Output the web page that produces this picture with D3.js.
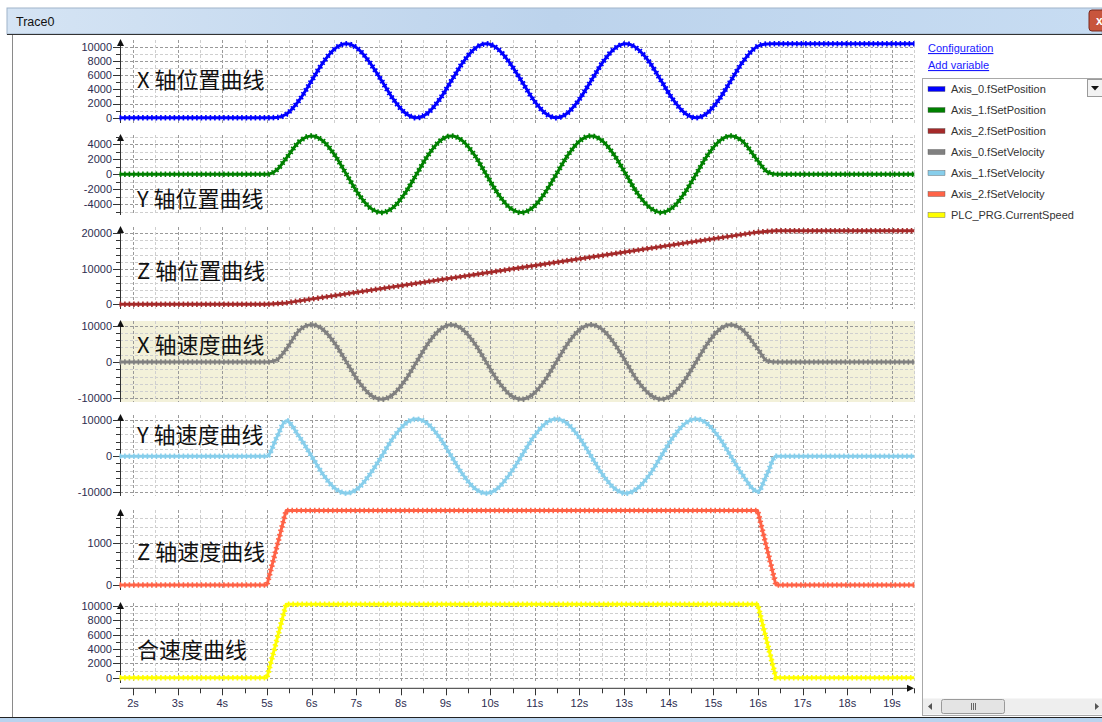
<!DOCTYPE html>
<html>
<head>
<meta charset="utf-8">
<script src="https://cdn.jsdelivr.net/npm/d3@7"></script>
<style>
  body { margin: 0; background: #fff; }
  svg { display: block; font-family: "Liberation Sans", Arial, sans-serif; }
</style>
</head>
<body>
<div id="chart"></div>
<script>
// ---- data ----
// sample times of the circular X/Y move, seconds
const waveTimes = [1.70, 5.00, 5.22, 5.43, 5.72, 6.00, 6.26, 6.52, 6.78, 7.04, 7.30, 7.57, 7.83, 8.09, 8.35, 8.61, 8.87, 9.13, 9.39, 9.65, 9.91, 10.17, 10.43, 10.70, 10.96, 11.22, 11.48, 11.74, 12.00, 12.26, 12.52, 12.78, 13.04, 13.30, 13.57, 13.83, 14.09, 14.35, 14.61, 14.87, 15.13, 15.39, 15.65, 15.99, 16.20, 16.40, 19.50];
const xPosition = [0, 0, 30, 470, 2440, 5200, 7800, 9700, 10400, 9700, 7800, 5200, 2600, 700, 0, 700, 2600, 5200, 7800, 9700, 10400, 9700, 7800, 5200, 2600, 700, 0, 700, 2600, 5200, 7800, 9700, 10400, 9700, 7800, 5200, 2600, 700, 0, 700, 2600, 5200, 7800, 10060, 10390, 10400, 10400];
const yPosition = [0, 0, 580, 2120, 4320, 5100, 4420, 2550, 0, -2550, -4420, -5100, -4420, -2550, 0, 2550, 4420, 5100, 4420, 2550, 0, -2550, -4420, -5100, -4420, -2550, 0, 2550, 4420, 5100, 4420, 2550, 0, -2550, -4420, -5100, -4420, -2550, 0, 2550, 4420, 5100, 4420, 1830, 360, 0, 0];
const xVelocity = [0, 0, 590, 3500, 8680, 10250, 8880, 5130, 0, -5130, -8880, -10250, -8880, -5130, 0, 5130, 8880, 10250, 8880, 5130, 0, -5130, -8880, -10250, -8880, -5130, 0, 5130, 8880, 10250, 8880, 5130, 0, -5130, -8880, -10250, -8880, -5130, 0, 5130, 8880, 10250, 8880, 3670, 350, 0, 0];
const yVelocity = [0, 0, 5190, 9800, 5450, 0, -5130, -8880, -10250, -8880, -5130, 0, 5130, 8880, 10250, 8880, 5130, 0, -5130, -8880, -10250, -8880, -5130, 0, 5130, 8880, 10250, 8880, 5130, 0, -5130, -8880, -10250, -8880, -5130, 0, 5130, 8880, 10250, 8880, 5130, 0, -5130, -9800, -5010, 0, 0];

// Z axis and path speed: ramp up, constant, ramp down
const rampTimes = [1.70, 5.00, 5.43, 15.99, 16.40, 19.50];
const zPosition = [0, 0, 400, 20330, 20700, 20700];
const zVelocity = [0, 0, 1785, 1785, 0, 0];
const currentSpeed = [0, 0, 10250, 10250, 0, 0];

const panelTitles = ["X 轴位置曲线", "Y 轴位置曲线", "Z 轴位置曲线", "X 轴速度曲线", "Y 轴速度曲线", "Z 轴速度曲线", "合速度曲线"];
const variableNames = ["Axis_0.fSetPosition", "Axis_1.fSetPosition", "Axis_2.fSetPosition", "Axis_0.fSetVelocity", "Axis_1.fSetVelocity", "Axis_2.fSetVelocity", "PLC_PRG.CurrentSpeed"];
const seriesColors = ["#0000ff", "#008000", "#a52a2a", "#808080", "#87ceeb", "#ff6347", "#ffff00"];
const timeTicks = d3.range(2, 20, 1);

// ---- layout ----
const W = 1102, H = 722;
const plotLeft = 120, plotRight = 915, axisY = 688.3;

// each panel: two tick readings (value -> pixel) define the y scale
const panels = [
  { times: waveTimes, values: xPosition, v0: 0, p0: 117.7, v1: 10000, p1: 46.7, top: 40, bottom: 123, labels: [0, 2000, 4000, 6000, 8000, 10000], minor: 1000, titleY: 88, curve: d3.curveMonotoneX },
  { times: waveTimes, values: yPosition, v0: -4000, p0: 204.3, v1: 4000, p1: 144.3, top: 135, bottom: 215, labels: [-4000, -2000, 0, 2000, 4000], minor: 1000, titleY: 207, curve: d3.curveMonotoneX },
  { times: rampTimes, values: zPosition, v0: 0, p0: 304.3, v1: 20000, p1: 233.3, top: 227, bottom: 309, labels: [0, 10000, 20000], minor: 2000, titleY: 279, curve: d3.curveLinear },
  { times: waveTimes, values: xVelocity, v0: -10000, p0: 398.3, v1: 10000, p1: 325.7, top: 321, bottom: 402, labels: [-10000, 0, 10000], minor: 2000, titleY: 353, curve: d3.curveMonotoneX, bg: "#f3f1da" },
  { times: waveTimes, values: yVelocity, v0: -10000, p0: 492.3, v1: 10000, p1: 420, top: 415, bottom: 496, labels: [-10000, 0, 10000], minor: 2000, titleY: 443, curve: d3.curveMonotoneX },
  { times: rampTimes, values: zVelocity, v0: 0, p0: 585, v1: 1000, p1: 543.3, top: 510, bottom: 590, labels: [0, 1000], minor: 200, titleY: 560, curve: d3.curveLinear },
  { times: rampTimes, values: currentSpeed, v0: 0, p0: 677.7, v1: 10000, p1: 606, top: 603, bottom: 683, labels: [0, 2000, 4000, 6000, 8000, 10000], minor: 1000, titleY: 658, curve: d3.curveLinear }
];

const svg = d3.select("#chart").append("svg").attr("width", W).attr("height", H);

// ---- window frame ----
const defs = svg.append("defs");
const tg = defs.append("linearGradient").attr("id", "titlebar").attr("x1", 0).attr("x2", 1).attr("y1", 0).attr("y2", 0);
tg.append("stop").attr("offset", "0%").attr("stop-color", "#d5e4f4");
tg.append("stop").attr("offset", "50%").attr("stop-color", "#bcd3ec");
tg.append("stop").attr("offset", "100%").attr("stop-color", "#c7dcf2");

svg.append("rect").attr("x", 7).attr("y", 8).attr("width", W - 7).attr("height", 26)
  .attr("fill", "url(#titlebar)").attr("stroke", "#9fb3c9");
svg.append("text").attr("x", 16).attr("y", 26).attr("font-size", 12.5).attr("fill", "#111").text("Trace0");

// close button, cut at the right edge
svg.append("rect").attr("x", 1089).attr("y", 10).attr("width", 22).attr("height", 21).attr("rx", 3)
  .attr("fill", "#c8553d").attr("stroke", "#7a2a1e");
svg.append("text").attr("x", 1096).attr("y", 25).attr("font-size", 12).attr("font-weight", "bold")
  .attr("fill", "#fff").text("x");

svg.append("line").attr("x1", 7).attr("x2", W).attr("y1", 34.5).attr("y2", 34.5).attr("stroke", "#333");
svg.append("line").attr("x1", 12.5).attr("x2", 12.5).attr("y1", 35).attr("y2", 717).attr("stroke", "#8a8a8a");
svg.append("rect").attr("x", 0).attr("y", 717).attr("width", W).attr("height", 5).attr("fill", "#b9d3ee");
svg.append("line").attr("x1", 0).attr("x2", W).attr("y1", 717.5).attr("y2", 717.5).attr("stroke", "#222");

// ---- shared time scale ----
const x = d3.scaleLinear().domain([2, 19]).range([133, 892]);
const halfTicks = d3.range(2, 19.51, 0.5);

const chart = svg.append("g");

panels.forEach((p, i) => {
  const y = d3.scaleLinear().domain([p.v0, p.v1]).range([p.p0, p.p1]);
  const g = chart.append("g");

  if (p.bg) {
    g.append("rect").attr("x", plotLeft).attr("y", p.top).attr("width", plotRight - plotLeft)
      .attr("height", p.bottom - p.top).attr("fill", p.bg);
  }

  // horizontal grid on every minor step inside the panel
  const lo = Math.ceil(y.invert(p.bottom) / p.minor) * p.minor;
  const hi = Math.floor(y.invert(p.top) / p.minor) * p.minor;
  const minorVals = d3.range(lo, hi + p.minor / 2, p.minor);

  g.selectAll(".hgrid").data(minorVals).join("line")
    .attr("x1", plotLeft).attr("x2", plotRight)
    .attr("y1", d => Math.round(y(d)) + 0.5).attr("y2", d => Math.round(y(d)) + 0.5)
    .attr("stroke", d => p.labels.includes(d) ? "#9a9a9a" : "#cfcfcf")
    .attr("stroke-dasharray", "3,2");

  // vertical grid every half second
  g.selectAll(".vgrid").data(halfTicks).join("line")
    .attr("x1", d => Math.round(x(d)) + 0.5).attr("x2", d => Math.round(x(d)) + 0.5)
    .attr("y1", p.top).attr("y2", p.bottom)
    .attr("stroke", d => Number.isInteger(d) ? "#9a9a9a" : "#cfcfcf")
    .attr("stroke-dasharray", "3,2");

  // y axis with arrow
  g.append("line").attr("x1", plotLeft + 0.5).attr("x2", plotLeft + 0.5)
    .attr("y1", p.top).attr("y2", p.bottom).attr("stroke", "#333");
  g.append("path")
    .attr("d", `M${plotLeft + 0.5},${p.top - 1} l-3.5,7 l7,0 z`).attr("fill", "#111");

  g.selectAll(".ytick").data(minorVals).join("line")
    .attr("x1", d => p.labels.includes(d) ? plotLeft - 7 : plotLeft - 4).attr("x2", plotLeft)
    .attr("y1", d => Math.round(y(d)) + 0.5).attr("y2", d => Math.round(y(d)) + 0.5)
    .attr("stroke", "#333");

  g.selectAll(".ylabel").data(p.labels).join("text")
    .attr("x", plotLeft - 8).attr("y", d => y(d)).attr("dy", "0.35em")
    .attr("text-anchor", "end").attr("font-size", 11).attr("fill", "#2d2d50")
    .text(d => d);

  // series: thick line plus a bead pattern for the sample markers
  const pts = p.times.map((t, k) => ({ t: t, v: p.values[k] }));
  const line = d3.line().x(d => x(d.t)).y(d => y(d.v)).curve(p.curve);
  g.append("path").attr("d", line(pts)).attr("fill", "none")
    .attr("stroke", seriesColors[i]).attr("stroke-width", 3).attr("stroke-linejoin", "round");
  g.append("path").attr("d", line(pts)).attr("fill", "none")
    .attr("stroke", seriesColors[i]).attr("stroke-width", 5.5).attr("stroke-dasharray", "1.6,2.9");

  g.append("text").attr("x", 137).attr("y", p.titleY)
    .attr("font-family", "'Noto Sans CJK SC', sans-serif").attr("font-size", 22)
    .attr("fill", "#111").text(panelTitles[i]);
});

// ---- time axis ----
const xa = svg.append("g");
xa.append("line").attr("x1", plotLeft).attr("x2", 908).attr("y1", axisY).attr("y2", axisY).attr("stroke", "#333");
xa.append("path").attr("d", `M914,${axisY} l-7,-3.5 l0,7 z`).attr("fill", "#111");
xa.selectAll(".xtick").data(halfTicks).join("line")
  .attr("x1", d => Math.round(x(d)) + 0.5).attr("x2", d => Math.round(x(d)) + 0.5)
  .attr("y1", axisY).attr("y2", d => Number.isInteger(d) ? axisY + 7 : axisY + 5)
  .attr("stroke", "#333");
xa.selectAll(".xlabel").data(timeTicks).join("text")
  .attr("x", d => x(d)).attr("y", 707).attr("text-anchor", "middle")
  .attr("font-size", 11).attr("fill", "#2d2d50").text(d => d + "s");

// ---- variable list on the right ----
const side = svg.append("g");
side.append("text").attr("x", 928).attr("y", 52).attr("font-size", 11).attr("fill", "#1a1aff")
  .attr("text-decoration", "underline").text("Configuration");
side.append("text").attr("x", 928).attr("y", 69).attr("font-size", 11).attr("fill", "#1a1aff")
  .attr("text-decoration", "underline").text("Add variable");

side.append("rect").attr("x", 922.5).attr("y", 78.5).attr("width", 190).attr("height", 637)
  .attr("fill", "#fff").attr("stroke", "#a8a8a8");

const items = side.selectAll(".item").data(variableNames).join("g")
  .attr("transform", (d, k) => `translate(0,${89 + k * 21})`);
items.append("rect").attr("x", 928).attr("y", -2.5).attr("width", 17).attr("height", 5)
  .attr("fill", (d, k) => seriesColors[k]).attr("stroke", "#555").attr("stroke-width", 0.4);
items.append("text").attr("x", 951).attr("y", 0).attr("dy", "0.35em")
  .attr("font-size", 11).attr("fill", "#333").text(d => d);

// drop-down button
side.append("rect").attr("x", 1087.5).attr("y", 79.5).attr("width", 17).attr("height", 17)
  .attr("fill", "#f2f2f2").attr("stroke", "#9a9a9a");
side.append("path").attr("d", "M1091,86 l8,0 l-4,4.5 z").attr("fill", "#111");

// horizontal scrollbar
side.append("rect").attr("x", 923).attr("y", 698.5).attr("width", 179).attr("height", 16).attr("fill", "#eeeeee");
side.append("path").attr("d", "M928,706.5 l4,-3.5 l0,7 z").attr("fill", "#555");
side.append("path").attr("d", "M1099,706.5 l-4,-3.5 l0,7 z").attr("fill", "#555");
side.append("rect").attr("x", 941.5).attr("y", 699.5).attr("width", 63).attr("height", 14).attr("rx", 2)
  .attr("fill", "#e4e4e4").attr("stroke", "#9a9a9a");
[-2, 0, 2].forEach(dx => {
  side.append("line").attr("x1", 973.5 + dx).attr("x2", 973.5 + dx).attr("y1", 703).attr("y2", 710)
    .attr("stroke", "#666");
});
</script>
</body>
</html>
